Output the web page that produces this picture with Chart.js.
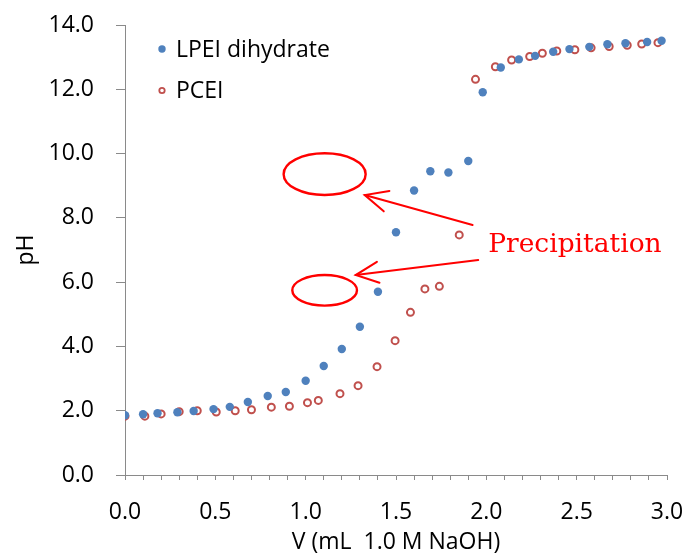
<!DOCTYPE html>
<html>
<head>
<meta charset="utf-8">
<script src="https://cdn.jsdelivr.net/npm/chart.js@4.4.1/dist/chart.umd.min.js"></script>
<style>
html,body{margin:0;padding:0;background:#ffffff;}
#wrap{width:682px;height:554px;position:relative;}
</style>
</head>
<body>
<div id="wrap"><canvas id="c" width="682" height="554"></canvas></div>
<script>
// ---- data ----
const seriesNames = ['LPEI dihydrate', 'PCEI'];

const lpeiV  = [0.00, 0.10, 0.18, 0.29, 0.38, 0.49, 0.58, 0.68, 0.79, 0.89, 1.00, 1.10, 1.20, 1.30, 1.40, 1.50, 1.60, 1.69, 1.79, 1.90, 1.98, 2.08, 2.18, 2.27, 2.37, 2.46, 2.57, 2.67, 2.77, 2.89, 2.97];
const lpeiPH = [1.86, 1.89, 1.92, 1.95, 1.99, 2.05, 2.12, 2.27, 2.46, 2.58, 2.93, 3.39, 3.92, 4.61, 5.70, 7.55, 8.85, 9.45, 9.41, 9.77, 11.91, 12.68, 12.93, 13.04, 13.17, 13.25, 13.32, 13.40, 13.43, 13.47, 13.51];

const pceiV  = [0.00, 0.11, 0.20, 0.30, 0.40, 0.505, 0.61, 0.70, 0.81, 0.91, 1.01, 1.07, 1.19, 1.29, 1.395, 1.495, 1.58, 1.66, 1.74, 1.85, 1.94, 2.05, 2.14, 2.24, 2.31, 2.39, 2.49, 2.58, 2.68, 2.78, 2.86, 2.95];
const pceiPH = [1.83, 1.83, 1.90, 1.97, 2.00, 1.96, 2.00, 2.03, 2.11, 2.14, 2.25, 2.32, 2.53, 2.78, 3.37, 4.18, 5.06, 5.79, 5.87, 7.47, 12.31, 12.70, 12.91, 13.02, 13.12, 13.19, 13.23, 13.29, 13.33, 13.37, 13.41, 13.45];

const xTitle = 'V (mL  1.0 M NaOH)';
const yTitle = 'pH';
const noteText = 'Precipitation';

// annotation anchors in data units (V, pH)
const noteEllipses = [
  {x: 1.105, y: 9.36,  rx: 0.227, ry: 0.65},
  {x: 1.105, y: 5.745, rx: 0.179, ry: 0.476}
];
const noteArrows = [
  {from: [1.924, 7.776], to: [1.327, 8.709]},
  {from: [1.955, 6.687], to: [1.277, 6.221]}
];
const noteAnchor = {x: 2.010, y: 6.946};

// ---- styling ----
const FONT = "'Open Sans', 'DejaVu Sans', sans-serif";
const AXIS_GREY = '#8a8a8a';
const BLUE = '#4F81BD';
const RED = '#C0504D';
const NOTE_RED = '#ff0000';

const toPoints = (xs, ys) => xs.map((x, i) => ({x: x, y: ys[i]}));

const legendPlugin = {
  id: 'insideLegend',
  afterDraw(chart) {
    const ctx = chart.ctx;
    const area = chart.chartArea;
    ctx.save();
    chart.data.datasets.forEach((ds, i) => {
      const cx = area.left + 37;
      const cy = area.top + 24 + i * 41.5;
      ctx.beginPath();
      if (ds.legendFilled) {
        ctx.fillStyle = ds.backgroundColor;
        ctx.arc(cx, cy, 3.7, 0, Math.PI * 2);
        ctx.fill();
      } else {
        ctx.strokeStyle = ds.borderColor;
        ctx.lineWidth = 1.8;
        ctx.arc(cx, cy, 2.7, 0, Math.PI * 2);
        ctx.stroke();
      }
      ctx.fillStyle = '#000000';
      ctx.font = '23px ' + FONT;
      ctx.textBaseline = 'middle';
      ctx.textAlign = 'left';
      ctx.fillText(ds.label, area.left + 51, cy + 1);
    });
    ctx.restore();
  }
};

const notePlugin = {
  id: 'precipitationNotes',
  afterDatasetsDraw(chart) {
    const ctx = chart.ctx;
    const xs = chart.scales.x, ys = chart.scales.y;
    const px = v => xs.getPixelForValue(v);
    const py = v => ys.getPixelForValue(v);
    ctx.save();
    ctx.strokeStyle = NOTE_RED;
    ctx.fillStyle = NOTE_RED;
    // ellipses
    ctx.lineWidth = 2.4;
    noteEllipses.forEach(e => {
      const cx = px(e.x), cy = py(e.y);
      const rx = Math.abs(px(e.x + e.rx) - cx);
      const ry = Math.abs(py(e.y + e.ry) - cy);
      ctx.beginPath();
      ctx.ellipse(cx, cy, rx, ry, 0, 0, Math.PI * 2);
      ctx.stroke();
    });
    // arrows
    ctx.lineWidth = 2;
    ctx.lineCap = 'round';
    noteArrows.forEach(a => {
      const x0 = px(a.from[0]), y0 = py(a.from[1]);
      const x1 = px(a.to[0]), y1 = py(a.to[1]);
      ctx.beginPath();
      ctx.moveTo(x0, y0);
      ctx.lineTo(x1, y1);
      ctx.stroke();
      const ang = Math.atan2(y0 - y1, x0 - x1);
      const len = 25, spread = 25 * Math.PI / 180;
      ctx.beginPath();
      ctx.moveTo(x1 + len * Math.cos(ang - spread), y1 + len * Math.sin(ang - spread));
      ctx.lineTo(x1, y1);
      ctx.lineTo(x1 + len * Math.cos(ang + spread), y1 + len * Math.sin(ang + spread));
      ctx.stroke();
    });
    // label
    ctx.font = "26.5px 'DejaVu Serif', 'Liberation Serif', serif";
    ctx.textAlign = 'left';
    ctx.textBaseline = 'alphabetic';
    ctx.fillText(noteText, px(noteAnchor.x), py(noteAnchor.y));
    ctx.restore();
  }
};

const ctx = document.getElementById('c').getContext('2d');
new Chart(ctx, {
  type: 'scatter',
  data: {
    datasets: [
      {
        label: seriesNames[0],
        data: toPoints(lpeiV, lpeiPH),
        backgroundColor: BLUE,
        borderColor: BLUE,
        borderWidth: 0,
        pointRadius: 4.2,
        pointHoverRadius: 4.2,
        legendFilled: true
      },
      {
        label: seriesNames[1],
        data: toPoints(pceiV, pceiPH),
        backgroundColor: 'rgba(0,0,0,0)',
        borderColor: RED,
        borderWidth: 2,
        pointRadius: 3.5,
        pointHoverRadius: 3.5,
        legendFilled: false
      }
    ]
  },
  options: {
    responsive: false,
    animation: false,
    devicePixelRatio: 1,
    layout: {padding: {left: 0, top: 25, right: 15, bottom: 0}},
    plugins: {
      legend: {display: false},
      tooltip: {enabled: false}
    },
    scales: {
      x: {
        type: 'linear',
        min: 0,
        max: 3,
        afterFit(scale) { scale.height = 79; scale.paddingLeft = 0; scale.paddingRight = 0; },
        ticks: {
          stepSize: 0.1,
          autoSkip: false,
          maxRotation: 0,
          minRotation: 0,
          padding: 19,
          color: '#000000',
          font: {family: FONT, size: 23},
          callback: (v) => {
            const h = Math.round(v * 10);
            return (h % 5 === 0) ? (h / 10).toFixed(1) : '';
          }
        },
        grid: {display: true, drawOnChartArea: false, drawTicks: true, tickLength: 5, color: AXIS_GREY, lineWidth: 1},
        border: {display: true, color: AXIS_GREY, width: 1},
        title: {display: true, text: xTitle, color: '#000000', font: {family: FONT, size: 23}, padding: {top: 0, bottom: -2}}
      },
      y: {
        type: 'linear',
        min: 0,
        max: 14,
        afterFit(scale) { scale.width = 125; scale.paddingTop = 0; scale.paddingBottom = 0; },
        ticks: {
          stepSize: 2,
          padding: 22,
          color: '#000000',
          font: {family: FONT, size: 23},
          callback: (v) => Number(v).toFixed(1)
        },
        grid: {display: true, drawOnChartArea: false, drawTicks: true, tickLength: 9, color: AXIS_GREY, lineWidth: 1},
        border: {display: true, color: AXIS_GREY, width: 1},
        title: {display: true, text: yTitle, color: '#000000', font: {family: FONT, size: 23}, padding: {top: 13, bottom: 0}}
      }
    }
  },
  plugins: [notePlugin, legendPlugin]
});
</script>
</body>
</html>
